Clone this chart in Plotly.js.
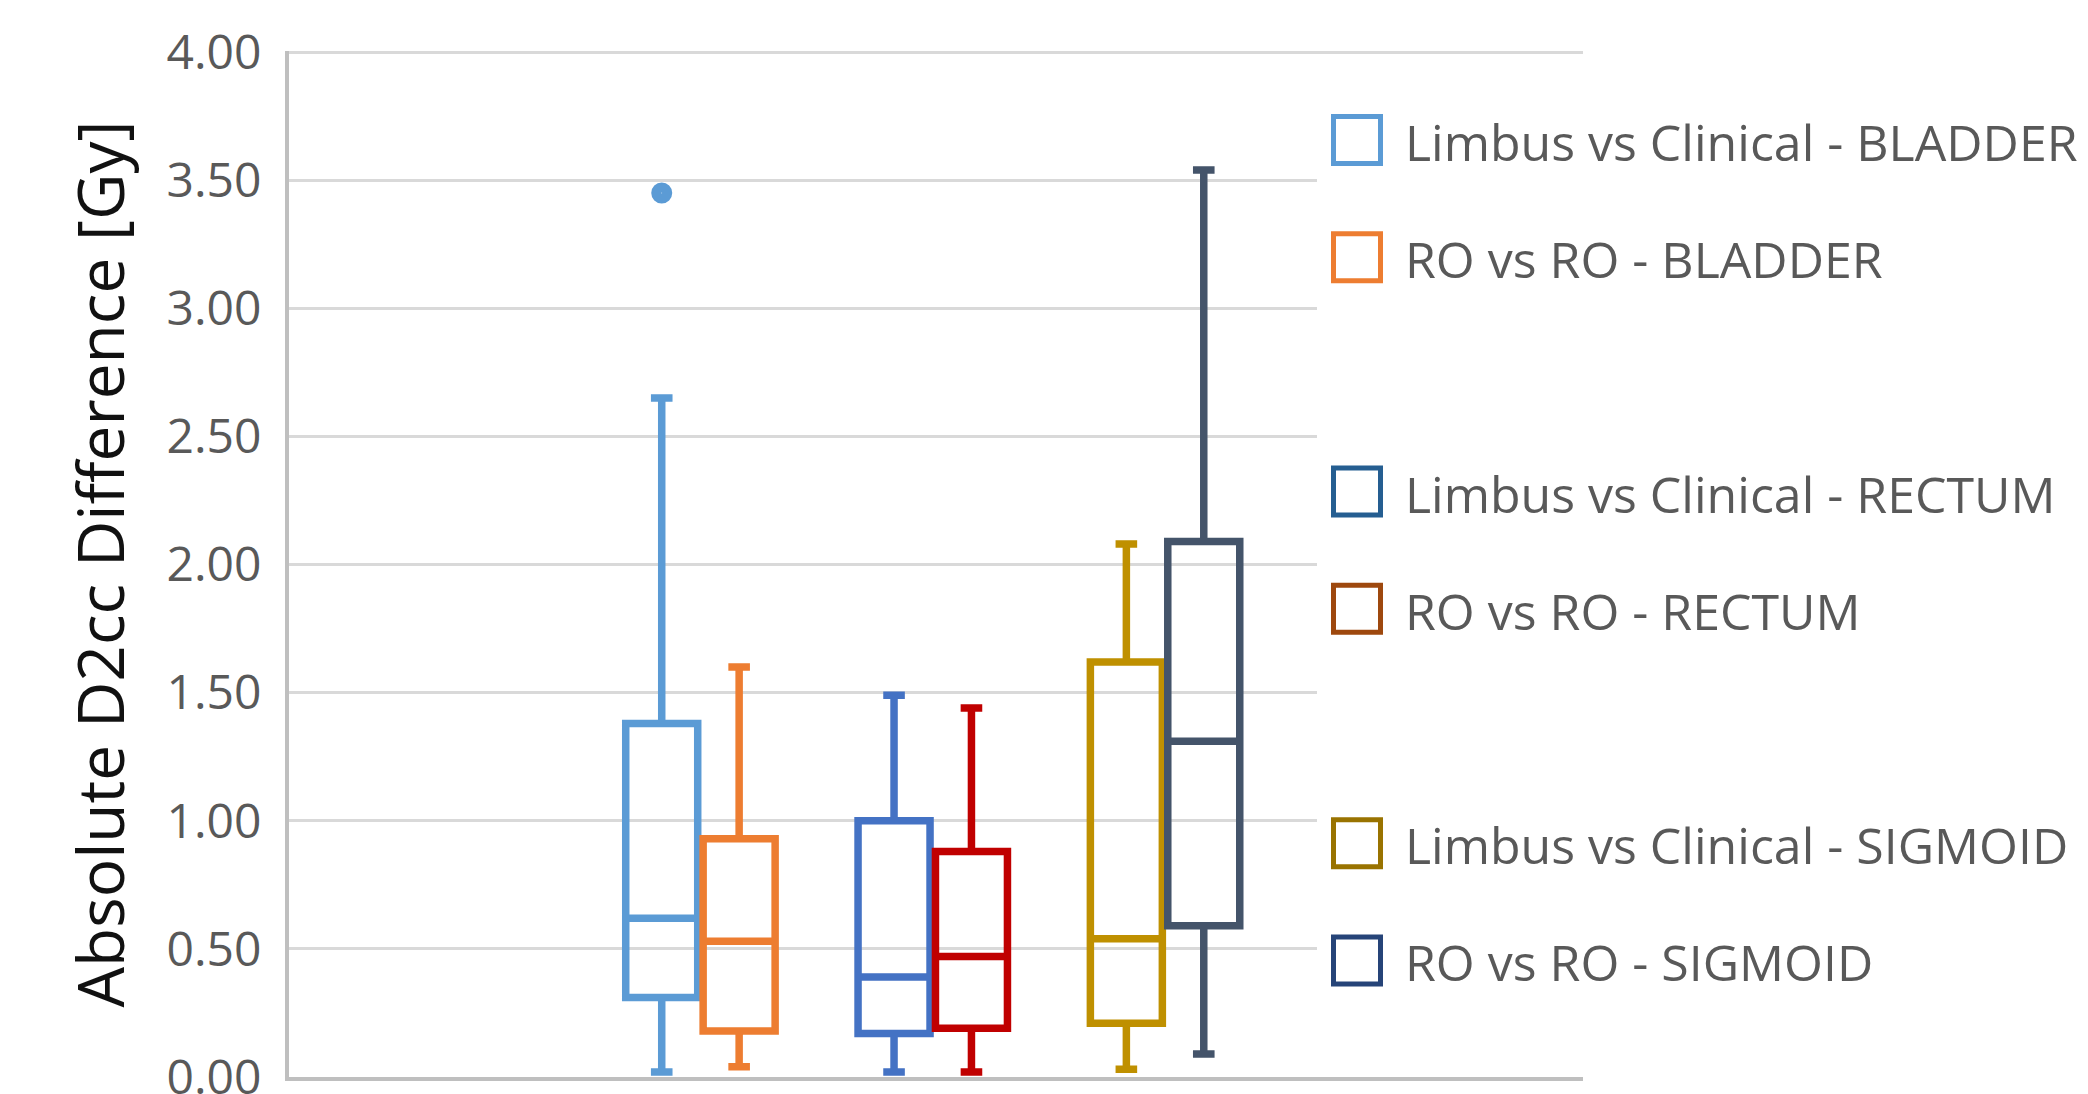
<!DOCTYPE html>
<html>
<head>
<meta charset="utf-8">
<script src="https://cdn.plot.ly/plotly-3.0.1.min.js"></script>
<style>
  html, body { margin: 0; padding: 0; background: #ffffff; }
  #chart { width: 2088px; height: 1094px; }
</style>
</head>
<body>
<div id="chart"></div>
<script>
// ---------- data ----------
const categories = ['BLADDER', 'RECTUM', 'SIGMOID'];
const seriesNames = [
  'Limbus vs Clinical - BLADDER',
  'RO vs RO - BLADDER',
  'Limbus vs Clinical - RECTUM',
  'RO vs RO - RECTUM',
  'Limbus vs Clinical - SIGMOID',
  'RO vs RO - SIGMOID'
];
const seriesCategory = ['BLADDER', 'BLADDER', 'RECTUM', 'RECTUM', 'SIGMOID', 'SIGMOID'];
const seriesGroup = ['Limbus', 'RO', 'Limbus', 'RO', 'Limbus', 'RO'];
const lowerWhisker = [0.02, 0.04, 0.02, 0.02, 0.03, 0.09];
const q1Values     = [0.31, 0.18, 0.17, 0.19, 0.21, 0.59];
const medianValues = [0.62, 0.53, 0.39, 0.47, 0.54, 1.31];
const q3Values     = [1.38, 0.93, 1.00, 0.88, 1.62, 2.09];
const upperWhisker = [2.65, 1.60, 1.49, 1.44, 2.08, 3.54];
const outlierValues = [[3.45], [], [], [], [], []];

// ---------- styles ----------
const boxColors    = ['#5B9BD5', '#ED7D31', '#4472C4', '#C00000', '#BF9000', '#44546A'];
const legendColors = ['#5B9BD5', '#ED7D31', '#255E91', '#9E480E', '#997300', '#264478'];
const legendRowSlots = [0, 1, 3, 4, 6, 7]; // blank rows between organ groups

const W = 2088, H = 1094;
const M = { l: 289, r: 505, t: 51, b: 17 };
const plotW = W - M.l - M.r, plotH = H - M.t - M.b;
const px = v => (v - M.l) / plotW;          // pixel x -> paper x
const py = v => (H - M.b - v) / plotH;      // pixel y -> paper y

const traces = seriesNames.map((name, i) => {
  const t = {
    type: 'box',
    name: name,
    orientation: 'v',
    x: [seriesCategory[i]],
    q1: [q1Values[i]],
    median: [medianValues[i]],
    q3: [q3Values[i]],
    lowerfence: [lowerWhisker[i]],
    upperfence: [upperWhisker[i]],
    alignmentgroup: 'all',
    offsetgroup: seriesGroup[i],
    line: { color: boxColors[i], width: 7.5 },
    fillcolor: 'rgba(255,255,255,0)',
    whiskerwidth: 0.3,
    boxpoints: false,
    showlegend: false,
    hoverinfo: 'skip'
  };
  if (outlierValues[i].length) {
    t.y = [outlierValues[i]];
    t.boxpoints = 'outliers';
    t.jitter = 0;
    t.pointpos = 0;
    t.marker = { color: boxColors[i], size: 21, symbol: 'circle-dot', line: { width: 0 } };
  }
  return t;
});

// ---------- custom legend (large square icons like the original) ----------
const shapes = [{
  type: 'rect', xref: 'paper', yref: 'paper', layer: 'above',
  x0: px(1317), x1: px(2088), y0: py(1045), y1: py(92),
  fillcolor: '#ffffff', line: { width: 0 }
}];
const annotations = [];
const rowTop = 140, rowStep = 117.2, half = 23.5;
seriesNames.forEach((name, i) => {
  const cy = rowTop + legendRowSlots[i] * rowStep;
  shapes.push({
    type: 'rect', xref: 'paper', yref: 'paper', layer: 'above',
    x0: px(1357 - half), x1: px(1357 + half), y0: py(cy + half), y1: py(cy - half),
    fillcolor: '#ffffff', line: { color: legendColors[i], width: 5 }
  });
  annotations.push({
    xref: 'paper', yref: 'paper', x: px(1403), y: py(cy + 2),
    xanchor: 'left', yanchor: 'middle', showarrow: false,
    text: name,
    font: { family: 'Open Sans', size: 50, color: '#595959' }
  });
});

const layout = {
  width: W, height: H,
  margin: M,
  paper_bgcolor: '#ffffff',
  plot_bgcolor: '#ffffff',
  showlegend: false,
  boxmode: 'group',
  boxgap: 0.3336,
  boxgroupgap: 0.07,
  xaxis: {
    type: 'category',
    categoryorder: 'array',
    categoryarray: categories,
    range: [-1.771, 3.799],
    showticklabels: false,
    showgrid: false,
    zeroline: false,
    ticks: '',
    showline: true,
    linecolor: '#BFBFBF',
    linewidth: 4
  },
  yaxis: {
    range: [0, 4.004],
    tickmode: 'linear',
    tick0: 0,
    dtick: 0.5,
    tickformat: '.2f',
    ticklabeloverflow: 'allow',
    showgrid: true,
    gridcolor: '#D9D9D9',
    gridwidth: 3,
    zeroline: false,
    showline: true,
    linecolor: '#BFBFBF',
    linewidth: 4,
    ticks: '',
    ticklabelstandoff: 14,
    tickfont: { family: 'Open Sans', size: 48, color: '#595959' },
    title: {
      text: 'Absolute D2cc Difference [Gy]',
      font: { family: 'Open Sans', size: 64, color: '#111111' },
      standoff: 22
    }
  },
  shapes: shapes,
  annotations: annotations
};

Plotly.newPlot('chart', traces, layout, { displayModeBar: false, staticPlot: true });
</script>
</body>
</html>
